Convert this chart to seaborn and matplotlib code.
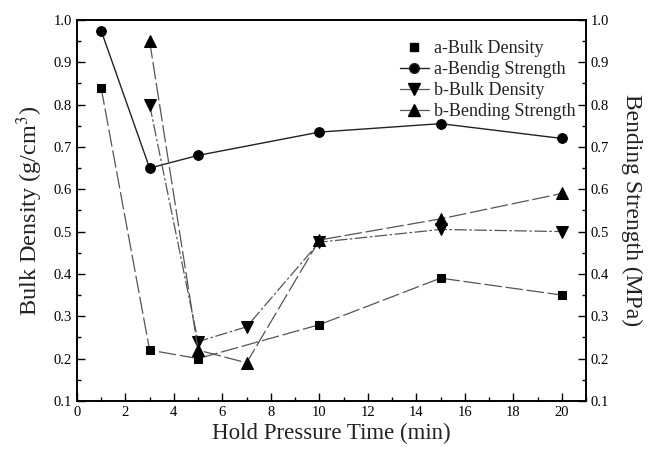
import matplotlib
matplotlib.use("Agg")
import matplotlib.pyplot as plt
import seaborn as sns
import pandas as pd
from matplotlib.lines import Line2D
from matplotlib.ticker import MultipleLocator

sns.set_theme(style="ticks")
plt.rcParams['font.family'] = ['Liberation Serif', 'DejaVu Serif']
plt.rcParams['mathtext.fontset'] = 'stix'

x_a = [1, 3, 5, 10, 15, 20]
a_bulk = [0.84, 0.22, 0.20, 0.28, 0.39, 0.35]
a_bend = [0.975, 0.65, 0.68, 0.735, 0.755, 0.72]
x_b = [3, 5, 7, 10, 15, 20]
b_bulk = [0.80, 0.24, 0.275, 0.475, 0.505, 0.50]
b_bend = [0.95, 0.22, 0.19, 0.48, 0.53, 0.59]
labels = ["a-Bulk Density", "a-Bendig Strength", "b-Bulk Density", "b-Bending Strength"]

fig = plt.figure(figsize=(6.57, 4.53), dpi=100)
ax = fig.add_axes([0.117, 0.115, 0.775, 0.841])

sns.lineplot(x=x_a, y=a_bulk, ax=ax, color="#555555", lw=0.9,
             linestyle=(0, (14, 3)), marker="s", markersize=6, markerfacecolor="black",
             markeredgecolor="black")
sns.lineplot(x=x_a, y=a_bend, ax=ax, color="#222222", lw=1.0,
             marker="o", markersize=7, markerfacecolor="black", markeredgecolor="black")
sns.lineplot(x=x_b, y=b_bulk, ax=ax, color="#555555", lw=0.9,
             linestyle=(0, (10, 2, 2, 2)), marker="v", markersize=8, markerfacecolor="black",
             markeredgecolor="black")
sns.lineplot(x=x_b, y=b_bend, ax=ax, color="#555555", lw=0.9,
             linestyle=(0, (14, 3)), marker="^", markersize=8, markerfacecolor="black",
             markeredgecolor="black")

ax.set_xlim(0, 21)
ax.set_ylim(0.1, 1.0)
ax.xaxis.set_major_locator(MultipleLocator(2))
ax.xaxis.set_minor_locator(MultipleLocator(1))
ax.yaxis.set_major_locator(MultipleLocator(0.1))
ax.yaxis.set_minor_locator(MultipleLocator(0.05))
ax.tick_params(which="both", direction="in", colors="black", labelsize=10.5, top=False)
ax.tick_params(which="major", length=6, width=1)
ax.tick_params(which="minor", length=3, width=1)
ax.set_yticklabels([f"{v:.1f}" for v in ax.get_yticks()])
ax.set_xlabel("Hold Pressure Time (min)", fontsize=16.5, color="#222222", labelpad=3)
ax.set_ylabel("Bulk Density (g/cm$^3$)", fontsize=17.5, color="#222222", labelpad=6)
for s in ax.spines.values():
    s.set_linewidth(1.2)
    s.set_color("black")

ax2 = ax.twinx()
ax2.set_ylim(0.1, 1.0)
ax2.yaxis.set_major_locator(MultipleLocator(0.1))
ax2.yaxis.set_minor_locator(MultipleLocator(0.05))
ax2.tick_params(which="both", direction="in", colors="black", labelsize=10.5)
ax2.tick_params(which="major", length=6, width=1)
ax2.tick_params(which="minor", length=3, width=1)
ax2.set_yticklabels([f"{v:.1f}" for v in ax2.get_yticks()])
ax2.set_ylabel("Bending Strength (MPa)", fontsize=17, color="#222222", rotation=270, labelpad=24)
for s in ax2.spines.values():
    s.set_linewidth(1.2)
    s.set_color("black")

handles = [
    Line2D([], [], linestyle="none", marker="s", color="black", markersize=6),
    Line2D([], [], color="#222222", marker="o", markersize=7, lw=1.0, markerfacecolor="black"),
    Line2D([], [], color="#555555", marker="v", markersize=8, lw=0.9, markerfacecolor="black", markeredgecolor="black"),
    Line2D([], [], color="#555555", marker="^", markersize=8, lw=0.9, markerfacecolor="black", markeredgecolor="black"),
]
ax.legend(handles, labels, loc="upper right", bbox_to_anchor=(1.012, 0.99), frameon=False,
          fontsize=13, handlelength=1.6, handletextpad=0.3, labelspacing=0.22,
          labelcolor="#222222")

fig.savefig("out.png", dpi=100)
